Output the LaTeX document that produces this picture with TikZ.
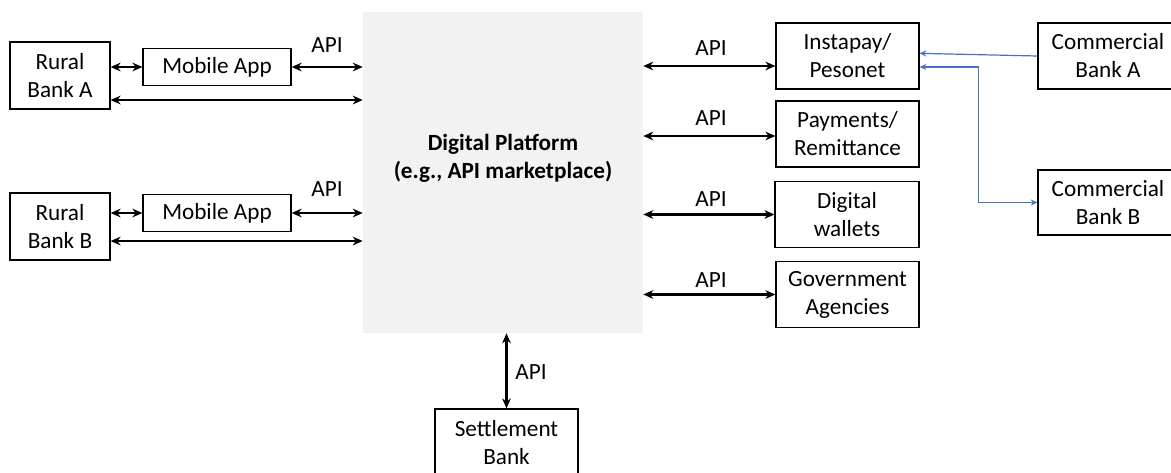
\documentclass[tikz,border=0pt]{standalone}
\usepackage{fontspec}
\setmainfont{Carlito}
\usetikzlibrary{arrows.meta}
\definecolor{platgray}{HTML}{F2F2F2}
\definecolor{linkblue}{HTML}{4472C4}
\tikzset{
  x=0.75pt, y=-0.75pt,
  every node/.style={font=\fontsize{17.4}{21}\selectfont},
  box/.style={draw=black, line width=0.9pt, fill=white, align=center, inner sep=0pt},
  apilink/.style={line width=1.7pt, {Stealth[length=7.5pt,width=6.5pt]}-{Stealth[length=7.5pt,width=6.5pt]}},
  bluelink/.style={draw=linkblue, line width=0.9pt, -{Stealth[length=5pt,width=4.5pt]}},
  bluelink2/.style={draw=linkblue, line width=0.9pt, {Stealth[length=5pt,width=4.5pt]}-{Stealth[length=5pt,width=4.5pt]}},
  lbl/.style={inner sep=0pt}
}
\begin{document}
\begin{tikzpicture}
\useasboundingbox (0,0) rectangle (1171,472);
\clip (0,0) rectangle (1171,472);
\fill[white] (0,0) rectangle (1171,472);

% platform
\node[fill=platgray, minimum width=210pt, minimum height=240.75pt, inner sep=0pt] (plat) at (503,172.5) {};
\node[font=\bfseries\fontsize{17.4}{21}\selectfont, align=center] (ptext) at (503,158) {Digital Platform\\(e.g., API marketplace)};

% left
\node[box, minimum width=75pt, minimum height=50.25pt] (ruralA) at (60,75.5) {Rural\\Bank A};
\node[box, minimum width=111pt, minimum height=27.75pt] (mobA) at (217,67) {Mobile App};
\node[box, minimum width=75pt, minimum height=50.25pt] (ruralB) at (60,226.5) {Rural\\Bank B};
\node[box, minimum width=111pt, minimum height=27.75pt] (mobB) at (217,213) {Mobile App};

\draw[apilink] (ruralA.east |- mobA.west) -- (mobA.west);
\draw[apilink] (mobA.east) -- (mobA.east -| plat.west);
\draw[apilink] ([yshift=-18.4pt]ruralA.east) -- ([yshift=-18.4pt]ruralA.east -| plat.west);
\draw[apilink] (ruralB.east |- mobB.west) -- (mobB.west);
\draw[apilink] (mobB.east) -- (mobB.east -| plat.west);
\draw[apilink] ([yshift=-10.9pt]ruralB.east) -- ([yshift=-10.9pt]ruralB.east -| plat.west);
\node[lbl] (apiA) at (327,45) {API};
\node[lbl] (apiB) at (327,189) {API};

% right
\node[box, minimum width=107.25pt, minimum height=49.5pt] (insta) at (847.5,56) {Instapay/\\Pesonet};
\node[box, minimum width=107.25pt, minimum height=49.5pt] (pay) at (847.5,134) {Payments/\\Remittance};
\node[box, minimum width=108pt, minimum height=49.5pt] (wallet) at (847,214.5) {Digital\\wallets};
\node[box, minimum width=107.25pt, minimum height=49.5pt] (gov) at (847.5,294.5) {Government\\Agencies};

\draw[apilink] ([yshift=-7.5pt]insta.west -| plat.east) -- ([yshift=-7.5pt]insta.west);
\draw[apilink] ([yshift=-1.5pt]pay.west -| plat.east) -- ([yshift=-1.5pt]pay.west);
\draw[apilink] (wallet.west -| plat.east) -- (wallet.west);
\draw[apilink] (gov.west -| plat.east) -- (gov.west);
\node[lbl] (api1) at (711,48) {API};
\node[lbl] (api2) at (711,118) {API};
\node[lbl] (api3) at (711,199) {API};
\node[lbl] (api4) at (711,280) {API};

\node[box, minimum width=105pt, minimum height=49.5pt] (comA) at (1108,56) {Commercial\\Bank A};
\node[box, minimum width=105pt, minimum height=48.75pt] (comB) at (1108,202.5) {Commercial\\Bank B};

\draw[bluelink] (comA.west) -- ([yshift=2pt]insta.east);
\draw[bluelink2] ([yshift=-8.25pt]insta.east) -- ++(44.25pt,0) |- (comB.west);

% bottom
\node[box, minimum width=107.25pt, minimum height=50.25pt] (settle) at (506.5,442.5) {Settlement\\Bank};
\draw[apilink] (plat.south -| settle.north) -- (settle.north);
\node[lbl] (api5) at (531,372) {API};
\end{tikzpicture}
\end{document}
